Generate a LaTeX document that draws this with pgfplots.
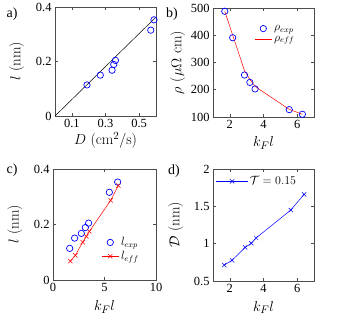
\documentclass[border=0pt]{standalone}
\usepackage{pgfplots}
\pgfplotsset{compat=1.18}
\usepackage{fontspec}
\setmainfont{Liberation Serif}
\newcommand{\lmfont}{\fontfamily{lmr}\selectfont}
\definecolor{axgray}{gray}{0.3}
\pgfplotsset{
  myax/.style={
    scale only axis, width=101bp, height=109bp,
    axis line style={draw=axgray, line width=0.5pt},
    every tick/.style={draw=axgray, line width=0.5pt},
    tick align=inside, major tick length=3bp,
    xtick pos=both, ytick pos=both,
    ticklabel style={font=\fontsize{12.5}{14}\selectfont},
    label style={font=\fontsize{15}{17}\lmfont},
    /pgf/number format/assume math mode=true,
    legend cell align=left,
    legend style={draw=none, fill=none, font=\fontsize{12}{14}\lmfont, row sep=0pt},
  },
  circ/.style={only marks, mark=o, mark size=3.2pt, blue, mark options={line width=0.7pt}},
}
\begin{document}
\begin{tikzpicture}
\useasboundingbox (0,0) rectangle (339bp,317bp);
% a)
\begin{axis}[myax, at={(55bp,201bp)}, anchor=south west,
  xmin=0, xmax=0.6, ymin=0, ymax=0.4,
  xtick={0.1,0.3,0.5}, ytick={0,0.2,0.4},
  xticklabels={0.1,0.3,0.5}, yticklabels={0,0.2,0.4},
  xlabel={$D$ (cm$^2$/s)}, ylabel={$l$ (nm)},
  xlabel style={at={(axis description cs:0.5,-0.22)}, anchor=center},
  ylabel style={at={(axis description cs:-0.38,0.5)}, anchor=center}]
\addplot[black, line width=0.5pt, no marks] coordinates {(0,0) (0.6,0.363)};
\addplot[circ] coordinates {(0.190,0.114) (0.269,0.150) (0.339,0.168) (0.349,0.189) (0.359,0.204) (0.569,0.315) (0.588,0.353)};
\end{axis}
\node[font=\fontsize{14}{16}\selectfont] at (12bp,303bp) {a)};
% b)
\begin{axis}[myax, at={(213bp,200bp)}, anchor=south west,
  xmin=1, xmax=7, ymin=100, ymax=500,
  xtick={2,4,6}, ytick={100,200,300,400,500},
  xlabel={$k_F l$}, ylabel={$\rho$ ($\mu\Omega$ cm)},
  xlabel style={at={(axis description cs:0.5,-0.24)}, anchor=center},
  ylabel style={at={(axis description cs:-0.35,0.5)}, anchor=center},
  legend style={at={(rel axis cs:0.38,0.88)}, anchor=north west}]
\addplot[circ] coordinates {(1.70,488) (2.17,391) (2.87,254) (3.19,227) (3.50,203) (5.53,127) (6.31,110)};
\addlegendentry{$\rho_{exp}$}
\addplot[red, line width=0.5pt, no marks] coordinates {(1.70,488) (2.17,400) (2.87,270) (3.19,238) (3.50,212) (5.53,128) (6.31,110)};
\addlegendentry{$\rho_{eff}$}
\end{axis}
\node[font=\fontsize{14}{16}\selectfont] at (172bp,303bp) {b)};
% c)
\begin{axis}[myax, at={(53bp,37bp)}, anchor=south west, height=111bp, width=103bp,
  xmin=0, xmax=10, ymin=0, ymax=0.4,
  xtick={0,5,10}, ytick={0,0.2,0.4},
  yticklabels={0,0.2,0.4},
  xlabel={$k_F l$}, ylabel={$l$ (nm)},
  xlabel style={at={(axis description cs:0.5,-0.245)}, anchor=center},
  ylabel style={at={(axis description cs:-0.37,0.5)}, anchor=center},
  legend style={at={(rel axis cs:0.44,0.42)}, anchor=north west}]
\addplot[circ] coordinates {(1.62,0.114) (2.10,0.151) (2.75,0.168) (3.14,0.189) (3.46,0.205) (5.47,0.316) (6.28,0.353)};
\addlegendentry{$l_{exp}$}
\addplot[red, line width=0.5pt, mark=x, mark size=3pt] coordinates {(1.68,0.068) (2.17,0.089) (2.88,0.136) (3.24,0.157) (3.53,0.175) (5.60,0.287) (6.34,0.340)};
\addlegendentry{$l_{eff}$}
\end{axis}
\node[font=\fontsize{14}{16}\selectfont] at (12bp,147bp) {c)};
% d)
\begin{axis}[myax, at={(213bp,36bp)}, anchor=south west, height=112bp,
  xmin=1, xmax=7, ymin=0.5, ymax=2,
  xtick={2,4,6}, ytick={0.5,1,1.5,2},
  yticklabels={0.5,1,1.5,2},
  xlabel={$k_F l$}, ylabel={$\mathcal{D}$ (nm)},
  xlabel style={at={(axis description cs:0.5,-0.235)}, anchor=center},
  ylabel style={at={(axis description cs:-0.37,0.5)}, anchor=center},
  legend style={at={(rel axis cs:0.0,0.97)}, anchor=north west},
  legend image code/.code={\draw[mark repeat=2,mark phase=2,#1] plot coordinates {(0cm,0cm) (0.55cm,0cm) (1.1cm,0cm)};}]
\addplot[blue, line width=0.5pt, mark=x, mark size=3pt] coordinates {(1.67,0.714) (2.13,0.777) (2.91,0.950) (3.27,1.005) (3.56,1.076) (5.62,1.450) (6.41,1.660)};
\addlegendentry{$\mathcal{T}=0.15$}
\end{axis}
\node[font=\fontsize{14}{16}\selectfont] at (174bp,146bp) {d)};
\end{tikzpicture}
\end{document}
